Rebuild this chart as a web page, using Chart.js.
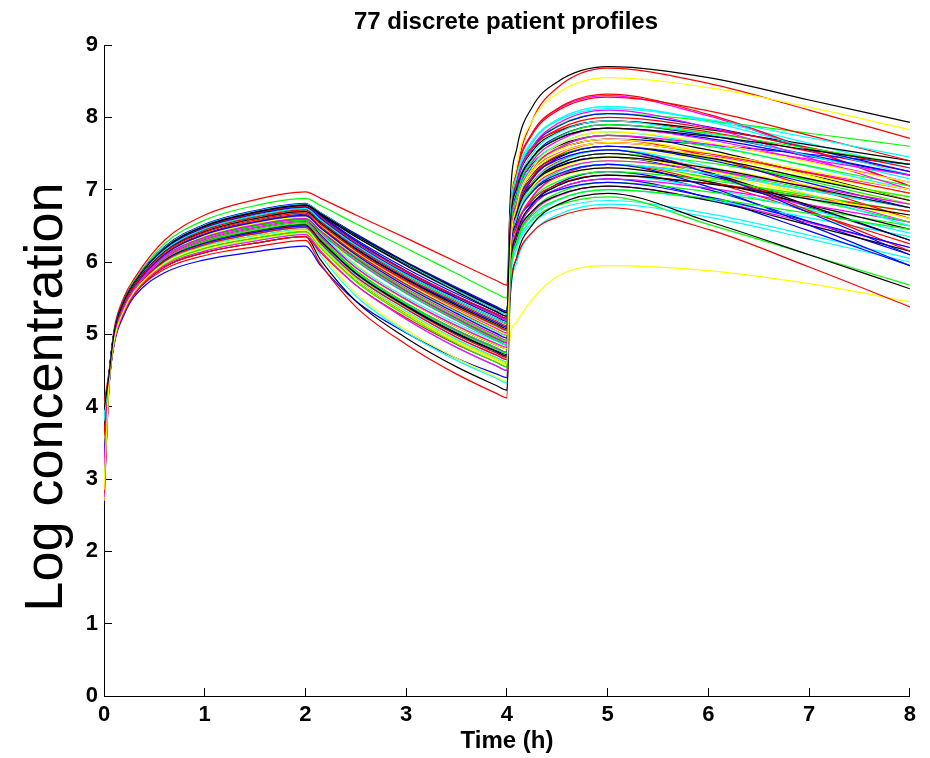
<!DOCTYPE html>
<html>
<head>
<meta charset="utf-8">
<title>77 discrete patient profiles</title>
<script src="https://cdn.jsdelivr.net/npm/chart.js"></script>
<style>
  html, body { margin: 0; padding: 0; background: #fff; }
  #wrap { width: 930px; height: 758px; position: relative; }
</style>
</head>
<body>
<div id="wrap"><canvas id="profileChart"></canvas></div>
<script>
// sampling times (h), shared by all profiles
const times = [0, 0.05, 0.1, 0.2, 0.3, 0.6, 1, 1.5, 2, 2.15, 2.5, 3, 3.5, 3.9, 4, 4.03, 4.1, 4.25, 4.5, 5, 6, 7, 8];

// log concentration for each of the 77 patients
const profiles = [
  [2.65, 4.27, 4.85, 5.27, 5.52, 5.85, 6.03, 6.14, 6.22, 5.95, 5.46, 5.02, 4.67, 4.45, 4.40, 5.68, 6.34, 6.79, 7.08, 7.25, 7.00, 6.56, 6.10],
  [3.90, 4.46, 5.04, 5.49, 5.74, 6.25, 6.58, 6.78, 6.88, 6.78, 6.53, 6.19, 5.84, 5.56, 5.50, 6.45, 6.93, 7.26, 7.47, 7.60, 7.42, 7.12, 6.80],
  [4.05, 4.49, 5.07, 5.52, 5.77, 6.30, 6.65, 6.86, 6.97, 6.88, 6.65, 6.33, 6.00, 5.74, 5.68, 6.70, 7.22, 7.59, 7.81, 7.95, 7.80, 7.53, 7.25],
  [3.20, 4.36, 4.94, 5.37, 5.62, 6.05, 6.30, 6.46, 6.55, 6.38, 6.01, 5.56, 5.19, 4.91, 4.85, 5.75, 6.21, 6.53, 6.73, 6.85, 6.67, 6.37, 6.05],
  [3.50, 4.41, 4.99, 5.43, 5.68, 6.14, 6.42, 6.60, 6.70, 6.54, 6.17, 5.74, 5.38, 5.11, 5.05, 6.51, 7.26, 7.78, 8.11, 8.30, 8.02, 7.55, 7.05],
  [2.90, 4.34, 4.92, 5.35, 5.60, 5.99, 6.22, 6.36, 6.45, 6.14, 5.57, 5.06, 4.67, 4.41, 4.35, 4.95, 5.18, 5.48, 5.80, 5.95, 5.88, 5.70, 5.45],
  [3.60, 4.44, 5.02, 5.46, 5.71, 6.20, 6.51, 6.70, 6.80, 6.64, 6.29, 5.87, 5.52, 5.26, 5.20, 6.78, 7.58, 8.14, 8.49, 8.70, 8.55, 8.24, 7.93],
  [3.40, 4.44, 5.02, 5.46, 5.71, 6.19, 6.49, 6.68, 6.78, 6.66, 6.37, 5.98, 5.63, 5.36, 5.30, 6.45, 7.03, 7.44, 7.70, 7.85, 7.71, 7.46, 7.20],
  [3.30, 4.38, 4.96, 5.40, 5.65, 6.08, 6.34, 6.51, 6.60, 6.43, 6.06, 5.61, 5.24, 4.96, 4.90, 5.80, 6.26, 6.58, 6.78, 6.90, 6.52, 6.10, 5.68],
  [2.75, 4.29, 4.87, 5.30, 5.55, 5.90, 6.09, 6.21, 6.30, 5.97, 5.38, 4.86, 4.45, 4.18, 4.12, 6.17, 7.22, 7.95, 8.41, 8.68, 8.47, 8.10, 7.71],
  [3.00, 4.32, 4.90, 5.33, 5.58, 5.96, 6.17, 6.31, 6.40, 6.09, 5.53, 5.03, 4.64, 4.39, 4.33, 5.44, 6.01, 6.40, 6.65, 6.80, 6.62, 6.32, 6.00],
  [3.70, 4.39, 4.97, 5.40, 5.65, 6.09, 6.36, 6.53, 6.62, 6.45, 6.09, 5.65, 5.28, 5.01, 4.95, 6.10, 6.68, 7.09, 7.35, 7.50, 7.29, 6.93, 6.55],
  [3.10, 4.39, 4.97, 5.41, 5.66, 6.11, 6.38, 6.56, 6.65, 6.43, 5.97, 5.50, 5.11, 4.86, 4.80, 6.49, 7.35, 7.95, 8.33, 8.55, 8.41, 8.14, 7.83],
  [3.35, 4.30, 4.88, 5.31, 5.56, 5.93, 6.13, 6.26, 6.35, 6.03, 5.46, 4.95, 4.55, 4.29, 4.23, 5.45, 6.08, 6.51, 6.79, 6.95, 6.56, 6.10, 5.63],
  [3.80, 4.44, 5.02, 5.47, 5.72, 6.21, 6.52, 6.71, 6.81, 6.65, 6.31, 5.91, 5.56, 5.31, 5.25, 6.35, 6.92, 7.31, 7.55, 7.70, 7.62, 7.49, 7.35],
  [2.95, 4.35, 4.93, 5.36, 5.61, 6.02, 6.26, 6.41, 6.50, 6.28, 5.83, 5.38, 5.01, 4.76, 4.70, 5.92, 6.54, 6.97, 7.24, 7.40, 7.26, 7.01, 6.75],
  [3.45, 4.33, 4.91, 5.34, 5.59, 5.97, 6.19, 6.33, 6.42, 6.20, 5.75, 5.29, 4.91, 4.66, 4.60, 5.57, 6.06, 6.41, 6.62, 6.75, 6.45, 5.93, 5.38],
  [3.55, 4.40, 4.98, 5.42, 5.67, 6.13, 6.41, 6.58, 6.68, 6.52, 6.17, 5.76, 5.42, 5.16, 5.10, 6.47, 7.17, 7.66, 7.97, 8.15, 7.96, 7.64, 7.30],
  [3.15, 4.34, 4.92, 5.35, 5.60, 6.01, 6.24, 6.39, 6.48, 6.26, 5.80, 5.35, 4.96, 4.71, 4.65, 5.73, 6.28, 6.67, 6.91, 7.05, 6.86, 6.54, 6.20],
  [3.25, 4.37, 4.95, 5.39, 5.64, 6.07, 6.33, 6.49, 6.58, 6.41, 6.04, 5.61, 5.24, 4.96, 4.90, 6.09, 6.70, 7.13, 7.39, 7.55, 7.41, 7.16, 6.90],
  [3.65, 4.43, 5.01, 5.45, 5.70, 6.18, 6.48, 6.67, 6.77, 6.65, 6.35, 5.97, 5.61, 5.34, 5.28, 6.39, 6.96, 7.35, 7.60, 7.75, 7.55, 7.21, 6.85],
  [2.85, 4.36, 4.94, 5.37, 5.62, 6.05, 6.30, 6.46, 6.55, 6.33, 5.88, 5.43, 5.06, 4.81, 4.75, 5.83, 6.38, 6.77, 7.01, 7.15, 6.89, 6.43, 5.95],
  [3.75, 4.42, 5.00, 5.44, 5.69, 6.15, 6.44, 6.62, 6.72, 6.56, 6.22, 5.81, 5.46, 5.21, 5.15, 6.46, 7.12, 7.59, 7.88, 8.05, 7.95, 7.78, 7.60],
  [3.05, 4.38, 4.96, 5.40, 5.65, 6.08, 6.34, 6.51, 6.60, 6.44, 6.07, 5.64, 5.28, 5.01, 4.95, 6.47, 7.24, 7.78, 8.12, 8.32, 8.04, 7.56, 7.05],
  [3.30, 4.31, 4.89, 5.32, 5.57, 5.95, 6.15, 6.29, 6.38, 6.15, 5.68, 5.21, 4.82, 4.56, 4.50, 5.63, 6.20, 6.60, 6.85, 7.00, 6.86, 6.61, 6.35],
  [3.85, 4.43, 5.01, 5.45, 5.70, 6.17, 6.47, 6.65, 6.75, 6.60, 6.25, 5.85, 5.51, 5.26, 5.20, 6.30, 6.87, 7.26, 7.50, 7.65, 7.50, 7.23, 6.95],
  [2.80, 4.36, 4.94, 5.37, 5.62, 6.03, 6.28, 6.43, 6.52, 6.30, 5.85, 5.40, 5.03, 4.78, 4.72, 5.88, 6.47, 6.89, 7.15, 7.30, 7.16, 6.91, 6.65],
  [3.60, 4.44, 5.02, 5.46, 5.71, 6.20, 6.51, 6.70, 6.80, 6.68, 6.38, 5.99, 5.63, 5.36, 5.30, 6.49, 7.10, 7.53, 7.79, 7.95, 7.83, 7.62, 7.40],
  [3.50, 4.44, 5.02, 5.46, 5.71, 6.19, 6.50, 6.69, 6.79, 6.63, 6.29, 5.88, 5.53, 5.28, 5.22, 6.22, 6.74, 7.09, 7.32, 7.45, 7.20, 6.76, 6.30],
  [3.00, 4.34, 4.92, 5.35, 5.60, 5.99, 6.22, 6.36, 6.45, 6.23, 5.77, 5.30, 4.91, 4.66, 4.60, 5.73, 6.30, 6.70, 6.95, 7.10, 6.97, 6.74, 6.50],
  [2.70, 4.30, 4.88, 5.31, 5.56, 5.93, 6.13, 6.26, 6.35, 6.13, 5.68, 5.23, 4.86, 4.61, 4.55, 5.81, 6.45, 6.90, 7.18, 7.35, 7.11, 6.69, 6.25],
  [3.40, 4.39, 4.97, 5.40, 5.65, 6.09, 6.36, 6.53, 6.62, 6.46, 6.10, 5.67, 5.31, 5.04, 4.98, 6.41, 7.14, 7.64, 7.96, 8.15, 7.94, 7.58, 7.20],
  [3.20, 4.37, 4.95, 5.38, 5.63, 6.06, 6.32, 6.48, 6.57, 6.40, 6.02, 5.57, 5.19, 4.91, 4.85, 6.09, 6.72, 7.16, 7.44, 7.60, 7.47, 7.24, 7.00],
  [3.70, 4.41, 4.99, 5.43, 5.68, 6.14, 6.42, 6.60, 6.70, 6.54, 6.17, 5.74, 5.38, 5.11, 5.05, 6.11, 6.65, 7.02, 7.26, 7.40, 7.22, 6.92, 6.60],
  [3.15, 4.38, 4.96, 5.40, 5.65, 6.08, 6.34, 6.51, 6.60, 6.43, 6.05, 5.60, 5.22, 4.94, 4.88, 5.86, 6.36, 6.70, 6.92, 7.05, 6.85, 6.51, 6.15],
  [3.45, 4.40, 4.98, 5.41, 5.66, 6.12, 6.39, 6.57, 6.66, 6.49, 6.13, 5.70, 5.33, 5.06, 5.00, 6.31, 6.97, 7.44, 7.73, 7.90, 7.75, 7.48, 7.20],
  [3.55, 4.36, 4.94, 5.37, 5.62, 6.05, 6.30, 6.46, 6.55, 6.33, 5.88, 5.43, 5.06, 4.81, 4.75, 5.99, 6.62, 7.06, 7.34, 7.50, 7.37, 7.14, 6.90],
  [3.90, 4.42, 5.00, 5.44, 5.69, 6.15, 6.44, 6.62, 6.72, 6.56, 6.21, 5.79, 5.44, 5.18, 5.12, 6.28, 6.87, 7.29, 7.55, 7.70, 7.46, 7.04, 6.60],
  [2.90, 4.34, 4.92, 5.35, 5.60, 6.01, 6.24, 6.39, 6.48, 6.26, 5.81, 5.36, 4.99, 4.74, 4.68, 5.81, 6.39, 6.80, 7.05, 7.20, 7.02, 6.72, 6.40],
  [3.35, 4.39, 4.97, 5.41, 5.66, 6.10, 6.38, 6.55, 6.64, 6.47, 6.09, 5.64, 5.26, 4.98, 4.92, 6.24, 6.91, 7.38, 7.67, 7.85, 7.69, 7.40, 7.10],
  [2.70, 4.32, 4.90, 5.33, 5.58, 5.96, 6.17, 6.31, 6.40, 6.18, 5.73, 5.27, 4.89, 4.64, 4.58, 5.87, 6.53, 6.99, 7.28, 7.45, 7.31, 7.06, 6.80],
  [3.80, 4.44, 5.02, 5.46, 5.71, 6.19, 6.49, 6.68, 6.78, 6.66, 6.35, 5.95, 5.59, 5.31, 5.25, 6.17, 6.64, 6.97, 7.18, 7.30, 7.11, 6.79, 6.45],
  [3.60, 4.41, 4.99, 5.43, 5.68, 6.14, 6.42, 6.60, 6.70, 6.54, 6.19, 5.77, 5.42, 5.16, 5.10, 6.43, 7.11, 7.58, 7.87, 8.05, 7.87, 7.57, 7.25],
  [3.10, 4.39, 4.97, 5.40, 5.65, 6.09, 6.36, 6.53, 6.62, 6.45, 6.07, 5.62, 5.24, 4.96, 4.90, 5.96, 6.50, 6.87, 7.11, 7.25, 7.13, 6.92, 6.70],
  [3.00, 4.36, 4.94, 5.37, 5.62, 6.03, 6.28, 6.43, 6.52, 6.30, 5.84, 5.38, 4.99, 4.74, 4.68, 5.97, 6.63, 7.09, 7.38, 7.55, 7.24, 6.71, 6.15],
  [3.50, 4.38, 4.96, 5.40, 5.65, 6.08, 6.34, 6.51, 6.60, 6.39, 5.95, 5.51, 5.15, 4.90, 4.85, 6.18, 6.86, 7.33, 7.62, 7.80, 7.62, 7.32, 7.00],
  [3.25, 4.35, 4.93, 5.36, 5.61, 6.02, 6.26, 6.41, 6.50, 6.29, 5.85, 5.41, 5.05, 4.80, 4.75, 5.83, 6.38, 6.77, 7.01, 7.15, 7.02, 6.79, 6.55],
  [3.95, 4.43, 5.01, 5.45, 5.70, 6.17, 6.47, 6.65, 6.75, 6.59, 6.25, 5.84, 5.49, 5.24, 5.18, 6.27, 6.83, 7.21, 7.45, 7.60, 7.46, 7.21, 6.95],
  [3.30, 4.37, 4.95, 5.39, 5.64, 6.07, 6.33, 6.49, 6.58, 6.37, 5.92, 5.48, 5.10, 4.85, 4.80, 6.02, 6.64, 7.07, 7.34, 7.50, 7.24, 6.78, 6.30],
  [3.70, 4.44, 5.02, 5.46, 5.71, 6.20, 6.51, 6.70, 6.80, 6.68, 6.39, 6.00, 5.65, 5.38, 5.32, 6.12, 6.53, 6.82, 6.99, 7.10, 6.90, 6.56, 6.20],
  [2.85, 4.33, 4.91, 5.34, 5.59, 5.97, 6.19, 6.33, 6.42, 6.20, 5.73, 5.26, 4.87, 4.61, 4.55, 5.99, 6.73, 7.24, 7.56, 7.75, 7.60, 7.33, 7.05],
  [3.40, 4.39, 4.97, 5.41, 5.66, 6.11, 6.38, 6.56, 6.65, 6.49, 6.12, 5.69, 5.33, 5.06, 5.00, 5.99, 6.50, 6.85, 7.07, 7.20, 7.09, 6.90, 6.70],
  [3.65, 4.41, 4.99, 5.43, 5.68, 6.14, 6.42, 6.60, 6.70, 6.54, 6.17, 5.74, 5.38, 5.11, 5.05, 6.36, 7.02, 7.49, 7.78, 7.95, 7.77, 7.47, 7.15],
  [2.75, 4.31, 4.89, 5.32, 5.57, 5.95, 6.15, 6.29, 6.38, 6.15, 5.68, 5.21, 4.82, 4.56, 4.50, 5.78, 6.44, 6.89, 7.18, 7.35, 7.22, 6.99, 6.75],
  [3.50, 4.39, 4.97, 5.40, 5.65, 6.09, 6.36, 6.53, 6.62, 6.45, 6.09, 5.65, 5.28, 5.01, 4.95, 6.19, 6.82, 7.26, 7.54, 7.70, 7.51, 7.19, 6.85],
  [3.85, 4.42, 5.00, 5.44, 5.69, 6.16, 6.46, 6.64, 6.74, 6.58, 6.23, 5.82, 5.47, 5.21, 5.15, 6.25, 6.82, 7.21, 7.45, 7.60, 7.44, 7.15, 6.85],
  [3.05, 4.35, 4.93, 5.36, 5.61, 6.02, 6.26, 6.41, 6.50, 6.29, 5.84, 5.40, 5.02, 4.77, 4.72, 6.02, 6.68, 7.14, 7.43, 7.60, 7.41, 7.09, 6.75],
  [3.60, 4.40, 4.98, 5.42, 5.67, 6.13, 6.41, 6.58, 6.68, 6.52, 6.16, 5.73, 5.37, 5.11, 5.05, 6.09, 6.61, 6.98, 7.21, 7.35, 7.17, 6.87, 6.55],
  [3.75, 4.43, 5.01, 5.45, 5.70, 6.18, 6.48, 6.67, 6.77, 6.62, 6.27, 5.87, 5.53, 5.28, 5.22, 6.47, 7.11, 7.56, 7.83, 8.00, 7.85, 7.58, 7.30],
  [2.95, 4.34, 4.92, 5.35, 5.60, 5.99, 6.22, 6.36, 6.45, 6.23, 5.77, 5.32, 4.93, 4.68, 4.62, 5.94, 6.61, 7.08, 7.37, 7.55, 7.32, 6.92, 6.50],
  [3.45, 4.40, 4.98, 5.42, 5.67, 6.13, 6.41, 6.58, 6.68, 6.51, 6.15, 5.72, 5.35, 5.08, 5.02, 6.09, 6.64, 7.02, 7.26, 7.40, 7.27, 7.04, 6.80],
  [3.20, 4.37, 4.95, 5.38, 5.63, 6.05, 6.31, 6.47, 6.56, 6.35, 5.91, 5.47, 5.10, 4.85, 4.80, 5.99, 6.60, 7.03, 7.29, 7.45, 7.26, 6.94, 6.60],
  [3.10, 4.36, 4.94, 5.37, 5.62, 6.03, 6.28, 6.43, 6.52, 6.30, 5.85, 5.39, 5.01, 4.76, 4.70, 5.83, 6.40, 6.80, 7.05, 7.20, 7.08, 6.87, 6.65],
  [3.55, 4.43, 5.01, 5.45, 5.70, 6.18, 6.47, 6.66, 6.76, 6.60, 6.25, 5.84, 5.50, 5.24, 5.18, 6.25, 6.79, 7.17, 7.41, 7.55, 7.23, 6.68, 6.10],
  [3.35, 4.37, 4.95, 5.39, 5.64, 6.07, 6.33, 6.49, 6.58, 6.41, 6.03, 5.58, 5.20, 4.92, 4.86, 6.23, 6.93, 7.41, 7.72, 7.90, 7.78, 7.57, 7.35],
  [2.80, 4.34, 4.92, 5.35, 5.60, 6.01, 6.24, 6.39, 6.48, 6.26, 5.80, 5.35, 4.96, 4.71, 4.65, 6.00, 6.69, 7.17, 7.47, 7.65, 7.50, 7.23, 6.95],
  [3.90, 4.42, 5.00, 5.44, 5.69, 6.16, 6.46, 6.64, 6.74, 6.58, 6.23, 5.82, 5.47, 5.21, 5.15, 6.14, 6.65, 7.00, 7.22, 7.35, 7.22, 6.99, 6.75],
  [3.25, 4.38, 4.96, 5.40, 5.65, 6.08, 6.34, 6.51, 6.60, 6.43, 6.05, 5.60, 5.22, 4.94, 4.88, 6.33, 7.07, 7.58, 7.91, 8.10, 7.86, 7.44, 7.00],
  [3.50, 4.40, 4.98, 5.42, 5.67, 6.13, 6.41, 6.58, 6.68, 6.51, 6.14, 5.71, 5.34, 5.06, 5.00, 6.19, 6.80, 7.23, 7.49, 7.65, 7.51, 7.26, 7.00],
  [3.70, 4.41, 4.99, 5.43, 5.68, 6.14, 6.42, 6.60, 6.70, 6.54, 6.18, 5.76, 5.40, 5.14, 5.08, 6.15, 6.69, 7.07, 7.31, 7.45, 7.30, 7.03, 6.75],
  [3.30, 4.39, 4.97, 5.41, 5.66, 6.10, 6.38, 6.55, 6.64, 6.47, 6.10, 5.66, 5.29, 5.01, 4.95, 6.03, 6.58, 6.97, 7.21, 7.35, 7.04, 6.51, 5.95],
  [3.00, 4.36, 4.94, 5.37, 5.62, 6.04, 6.28, 6.44, 6.53, 6.32, 5.87, 5.42, 5.04, 4.79, 4.74, 5.76, 6.28, 6.64, 6.86, 7.00, 6.88, 6.67, 6.45],
  [3.60, 4.40, 4.98, 5.42, 5.67, 6.13, 6.41, 6.58, 6.68, 6.52, 6.16, 5.74, 5.38, 5.12, 5.06, 6.51, 7.25, 7.76, 8.09, 8.28, 8.09, 7.75, 7.40],
  [3.80, 4.44, 5.02, 5.46, 5.71, 6.20, 6.51, 6.70, 6.80, 6.68, 6.37, 5.98, 5.61, 5.34, 5.28, 6.56, 7.21, 7.67, 7.95, 8.12, 7.97, 7.72, 7.45],
  [3.15, 4.37, 4.95, 5.38, 5.63, 6.05, 6.31, 6.47, 6.56, 6.35, 5.92, 5.48, 5.12, 4.87, 4.82, 6.14, 6.81, 7.28, 7.57, 7.75, 7.63, 7.42, 7.20],
  [2.85, 4.33, 4.91, 5.34, 5.59, 5.98, 6.21, 6.35, 6.44, 6.22, 5.76, 5.30, 4.91, 4.66, 4.60, 6.04, 6.78, 7.29, 7.61, 7.80, 7.65, 7.38, 7.10],
  [3.95, 4.44, 5.02, 5.46, 5.71, 6.19, 6.50, 6.69, 6.79, 6.67, 6.37, 5.99, 5.63, 5.36, 5.30, 6.45, 7.03, 7.44, 7.70, 7.85, 7.74, 7.55, 7.35]
];

// matlab default line colour cycle: b g r c m y k
const lineColors = ["#0000ff", "#00ff00", "#ff0000", "#00ffff", "#ff00ff", "#ffff00", "#000000"];

const xTicks = [0, 1, 2, 3, 4, 5, 6, 7, 8];
const yTicks = [0, 1, 2, 3, 4, 5, 6, 7, 8, 9];

const titleText = "77 discrete patient profiles";
const xTitle = "Time (h)";
const yTitle = "Log concentration";

const FONT = '"Liberation Sans", Arial, Helvetica, sans-serif';

// title and y label are drawn by hand so they sit where the original has them
const textPlugin = {
  id: "figText",
  afterDraw(chart) {
    const ctx = chart.ctx;
    const area = chart.chartArea;
    ctx.save();
    ctx.fillStyle = "#000";
    ctx.font = "bold 24px " + FONT;
    ctx.textAlign = "center";
    ctx.textBaseline = "alphabetic";
    ctx.fillText(titleText, (area.left + area.right) / 2 - 1, 29);

    ctx.font = "54px " + FONT;
    ctx.translate(62, 397);
    ctx.rotate(-Math.PI / 2);
    ctx.fillText(yTitle, 0, 0);
    ctx.restore();
  }
};

document.addEventListener("DOMContentLoaded", function () {
  const datasets = profiles.map((row, i) => ({
    label: "Patient " + (i + 1),
    data: row.map((v, j) => ({ x: times[j], y: v })),
    borderColor: lineColors[i % lineColors.length],
    borderWidth: 1.2,
    pointRadius: 0,
    fill: false,
    cubicInterpolationMode: "monotone",
    order: profiles.length - i // later patients drawn on top, like matlab
  }));

  const ctx = document.getElementById("profileChart").getContext("2d");
  new Chart(ctx, {
    type: "line",
    data: { datasets: datasets },
    options: {
      responsive: true,
      maintainAspectRatio: false,
      animation: false,
      events: [],
      layout: { padding: { left: 0, right: 19, top: 45, bottom: 0 } },
      plugins: {
        legend: { display: false },
        tooltip: { enabled: false },
        title: { display: false }
      },
      scales: {
        x: {
          type: "linear",
          min: 0,
          max: 8,
          afterBuildTicks: (scale) => { scale.ticks = xTicks.map(v => ({ value: v })); },
          afterFit: (scale) => { scale.height = 62; },
          ticks: {
            color: "#000",
            padding: 14,
            maxRotation: 0,
            font: { family: FONT, size: 22, weight: "bold" }
          },
          grid: {
            drawOnChartArea: false,
            drawTicks: true,
            tickLength: -8,
            tickColor: "#000",
            tickWidth: 1
          },
          border: { display: true, color: "#000", width: 1 },
          title: {
            display: true,
            text: xTitle,
            color: "#000",
            padding: { top: 0, bottom: 2 },
            font: { family: FONT, size: 24, weight: "bold" }
          }
        },
        y: {
          type: "linear",
          min: 0,
          max: 9,
          afterBuildTicks: (scale) => { scale.ticks = yTicks.map(v => ({ value: v })); },
          afterFit: (scale) => { scale.width = 104; },
          ticks: {
            color: "#000",
            padding: 14,
            font: { family: FONT, size: 22, weight: "bold" }
          },
          grid: {
            drawOnChartArea: false,
            drawTicks: true,
            tickLength: -8,
            tickColor: "#000",
            tickWidth: 1
          },
          border: { display: true, color: "#000", width: 1 },
          title: { display: false }
        }
      }
    },
    plugins: [textPlugin]
  });
});
</script>
</body>
</html>
